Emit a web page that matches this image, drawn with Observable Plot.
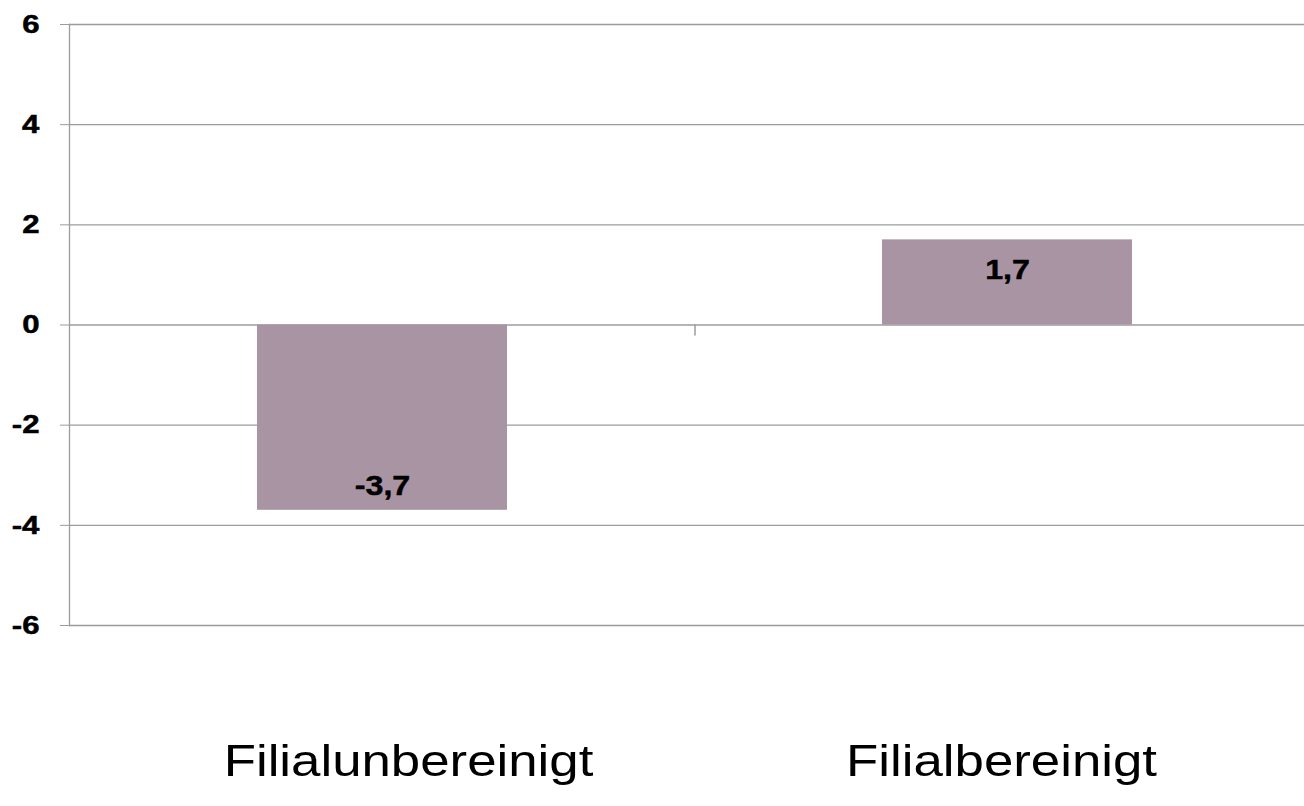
<!DOCTYPE html>
<html><head><meta charset="utf-8">
<script src="https://cdn.jsdelivr.net/npm/d3@7"></script>
<script src="https://cdn.jsdelivr.net/npm/@observablehq/plot@0.6"></script>
<style>
  html,body{margin:0;padding:0;background:#fff}
  #chart{width:1304px;height:806px}
</style>
</head><body><div id="chart"></div>
<script>
// ---- data ----
const categories = ["Filialunbereinigt", "Filialbereinigt"];
const values = [-3.7, 1.7];
const yTicks = [-6, -4, -2, 0, 2, 4, 6];

const data = categories.map((c, i) => ({category: c, value: values[i]}));
const de = d3.formatLocale({decimal: ",", thousands: ".", grouping: [3], currency: ["", " €"], minus: "-"});
const fmt1 = de.format(".1f");
const fmt0 = de.format("d");

const W = 1304, H = 806, left = 69, catRight = 1319;
const grid = "#9c9c9c";
const font = "'Liberation Sans', Arial, sans-serif";

const plot = Plot.plot({
  width: W, height: H,
  marginLeft: left, marginRight: 0, marginTop: 24, marginBottom: 181,
  style: {fontFamily: font, background: "#fff", color: "#000"},
  x: {type: "band", domain: categories, range: [left, catRight], paddingInner: 0.6, paddingOuter: 0.3, axis: null},
  y: {domain: [-6, 6], axis: null},
  marks: [
    Plot.ruleY(yTicks, {stroke: grid, strokeWidth: 1.3}),
    Plot.frame({anchor: "left", stroke: grid, strokeWidth: 1.3}),
    Plot.ruleX([categories[1]], {x: d => d, y1: 0, y2: -0.22, dx: -312.5, stroke: grid, strokeWidth: 1.5}),
    Plot.barY(data, {x: "category", y: "value", fill: "#A994A4"}),
    Plot.axisY({ticks: yTicks, tickSize: 9, tickFormat: () => "", stroke: grid, label: null}),
    Plot.text(yTicks, {y: d => d, text: d => fmt0(d), frameAnchor: "left", dx: -30, textAnchor: "end", lineAnchor: "middle", fontSize: 26, fontWeight: "bold", fill: "#000", stroke: "#000", strokeWidth: 0.5}),
    Plot.text(data.filter(d => d.value < 0), {x: "category", y: "value", text: d => fmt1(d.value), dy: -24, fontSize: 28, fontWeight: "bold", fill: "#000", stroke: "#000", strokeWidth: 0.5, lineAnchor: "middle"}),
    Plot.text(data.filter(d => d.value >= 0), {x: "category", y: "value", text: d => fmt1(d.value), dy: 30, fontSize: 28, fontWeight: "bold", fill: "#000", stroke: "#000", strokeWidth: 0.5, lineAnchor: "middle"}),
    Plot.text([categories[0]], {x: d => d, text: d => d, frameAnchor: "bottom", dy: 136, dx: 26, fontSize: 44, fill: "#000", lineAnchor: "middle"}),
    Plot.text([categories[1]], {x: d => d, text: d => d, frameAnchor: "bottom", dy: 136, dx: -6, fontSize: 44, fill: "#000", lineAnchor: "middle"})
  ]
});
document.getElementById("chart").appendChild(plot);

// horizontal stretch of the text, as in the reference picture
const svgNS = "http://www.w3.org/2000/svg";
plot.querySelectorAll("text").forEach(t => {
  if (!t.textContent) return;
  const fs = parseFloat(getComputedStyle(t).fontSize);
  const s = fs >= 40 ? 1.2 : fs >= 27 ? 1.15 : 1.2;
  const anchor = getComputedStyle(t).textAnchor;
  const g = document.createElementNS(svgNS, "g");
  t.parentNode.insertBefore(g, t);
  g.appendChild(t);
  const b = g.getBBox();
  const ox = anchor === "end" ? b.x + b.width : anchor === "middle" ? b.x + b.width / 2 : b.x;
  g.setAttribute("transform", `translate(${ox},0) scale(${s},1) translate(${-ox},0)`);
});
</script>
</body></html>
